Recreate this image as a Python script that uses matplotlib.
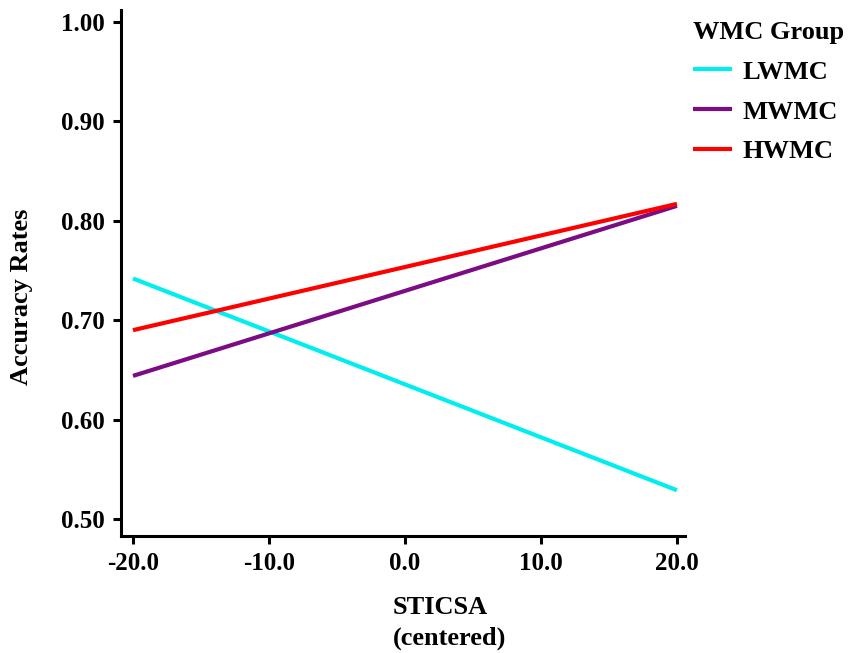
import matplotlib.pyplot as plt

# STICSA (centered) endpoints and predicted accuracy per WMC group
sticsa = [-20.0, 20.0]
groups = ["LWMC", "MWMC", "HWMC"]
lwmc = [0.742, 0.529]
mwmc = [0.644, 0.815]
hwmc = [0.690, 0.817]
colors = ["#00eeee", "#7b0c84", "#ff0000"]

yticks = [0.50, 0.60, 0.70, 0.80, 0.90, 1.00]
xticks = [-20.0, -10.0, 0.0, 10.0, 20.0]

plt.rcParams["font.family"] = "Liberation Serif"
plt.rcParams["font.weight"] = "bold"

fig = plt.figure(figsize=(8.54, 6.53), dpi=100)
ax = fig.add_axes([0.1417, 0.1792, 0.6605, 0.8055])

for vals, name, c in zip([lwmc, mwmc, hwmc], groups, colors):
    ax.plot(sticsa, vals, color=c, lw=3, label=name, solid_capstyle="butt")

ax.set_xlim(-20.88, 20.6)
ax.set_ylim(0.483, 1.012)
ax.set_xticks(xticks)
ax.set_xticklabels([f"{t:.1f}" for t in xticks])
ax.set_yticks(yticks)
ax.set_yticklabels([f"{t:.2f}" for t in yticks])

for s in ["top", "right"]:
    ax.spines[s].set_visible(False)
for s in ["left", "bottom"]:
    ax.spines[s].set_linewidth(2.2)
ax.tick_params(width=2.2, length=5.5, labelsize=18, pad=6)

ax.set_xlabel("STICSA\n(centered)", fontsize=19, fontweight="bold",
              ha="left", multialignment="left", linespacing=1.45)
ax.xaxis.set_label_coords(0.482, -0.114)
ax.set_ylabel("Accuracy Rates", fontsize=19, fontweight="bold", va="center")
ax.yaxis.set_label_coords(-0.176, 0.455)

leg = ax.legend(title="WMC Group", loc="upper left", bbox_to_anchor=(0.811, 0.968),
                bbox_transform=fig.transFigure, frameon=False, fontsize=19,
                title_fontsize=19, handlelength=1.5, handletextpad=0.4,
                labelspacing=0.62, borderaxespad=0, borderpad=0)
leg.get_title().set_fontweight("bold")
leg._legend_box.align = "left"

fig.savefig("out.png", dpi=100)
